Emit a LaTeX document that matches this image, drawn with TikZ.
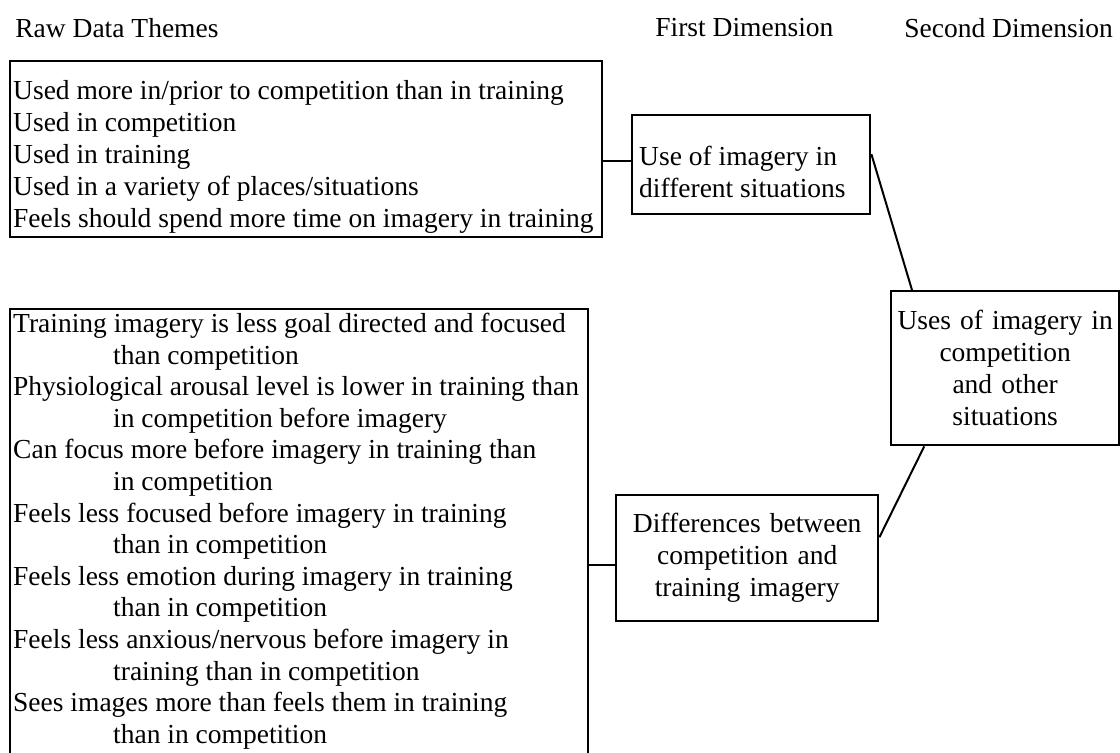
\documentclass[tikz,border=0pt]{standalone}
\usepackage{fontspec}
\setmainfont{Liberation Serif}
\usetikzlibrary{positioning}

\newcommand{\themeindent}{\hspace*{50pt}}
\newcommand{\lowerstrut}[1]{\rule{0pt}{#1}}
\newcommand{\deepstrut}[1]{\rule[-#1]{0pt}{#1}}

\tikzset{
  box/.style={draw, line width=1.2pt, inner xsep=1.5pt, inner ysep=2pt,
    font=\fontsize{13.75}{16}\selectfont},
  head/.style={anchor=west, inner sep=0pt, font=\fontsize{13.75}{16}\selectfont},
  link/.style={draw, line width=1pt}
}

\begin{document}
\begin{tikzpicture}[x=0.5pt,y=-0.5pt]
    \useasboundingbox (0,0) rectangle (1120,752);
    \clip (0,0) rectangle (1120,752);
    %headings
    \node[head] (hraw) at (15,28) {Raw Data Themes};
    \node[head] (hfirst) at (655,28) {First Dimension};
    \node[head] (hsecond) at (904,28) {Second Dimension};
    %raw data themes
    \node[box, anchor=north west, text width=293pt, align=flush left, minimum height=88pt] (raw1) at (9,60)
      {\lowerstrut{17pt}Used more in/prior to competition than in training\\
       Used in competition\\
       Used in training\\
       Used in a variety of places/situations\\
       Feels should spend more time on imagery in training};
    \node[box, anchor=north west, text width=286pt, align=flush left, inner ysep=2pt,
          font=\fontsize{13.75}{15.8}\selectfont] (raw2) at (9,308)
      {Training imagery is less goal directed and focused\\
       \themeindent than competition\\
       Physiological arousal level is lower in training than\\
       \themeindent in competition before imagery\\
       Can focus more before imagery in training than\\
       \themeindent in competition\\
       Feels less focused before imagery in training\\
       \themeindent than in competition\\
       Feels less emotion during imagery in training\\
       \themeindent than in competition\\
       Feels less anxious/nervous before imagery in\\
       \themeindent training than in competition\\
       Sees images more than feels them in training\\
       \themeindent than in competition\deepstrut{12pt}};
    %dimensions
    \node[box, anchor=north west, text width=112pt, align=flush left, minimum height=49.5pt, inner xsep=3.5pt] (dim1a) at (631,114)
      {\lowerstrut{17pt}Use of imagery in\\different situations};
    \node[box, anchor=north west, text width=128pt, align=center, minimum height=63pt] (dim1b) at (615,494)
      {Differences between\\competition and\\training imagery};
    \node[box, anchor=north west, text width=111pt, align=center, minimum height=77pt] (dim2) at (890,290)
      {Uses of imagery in\\competition\\and other\\situations};
    %edges
    \path[link]
     (dim1a.178) edge (dim1a.178 -| raw1.east)
     (dim1b.183) edge (dim1b.183 -| raw2.east)
     (dim1a.5) edge (dim2.140)
     (dim2.224) edge (dim1b.9);
\end{tikzpicture}
\end{document}
